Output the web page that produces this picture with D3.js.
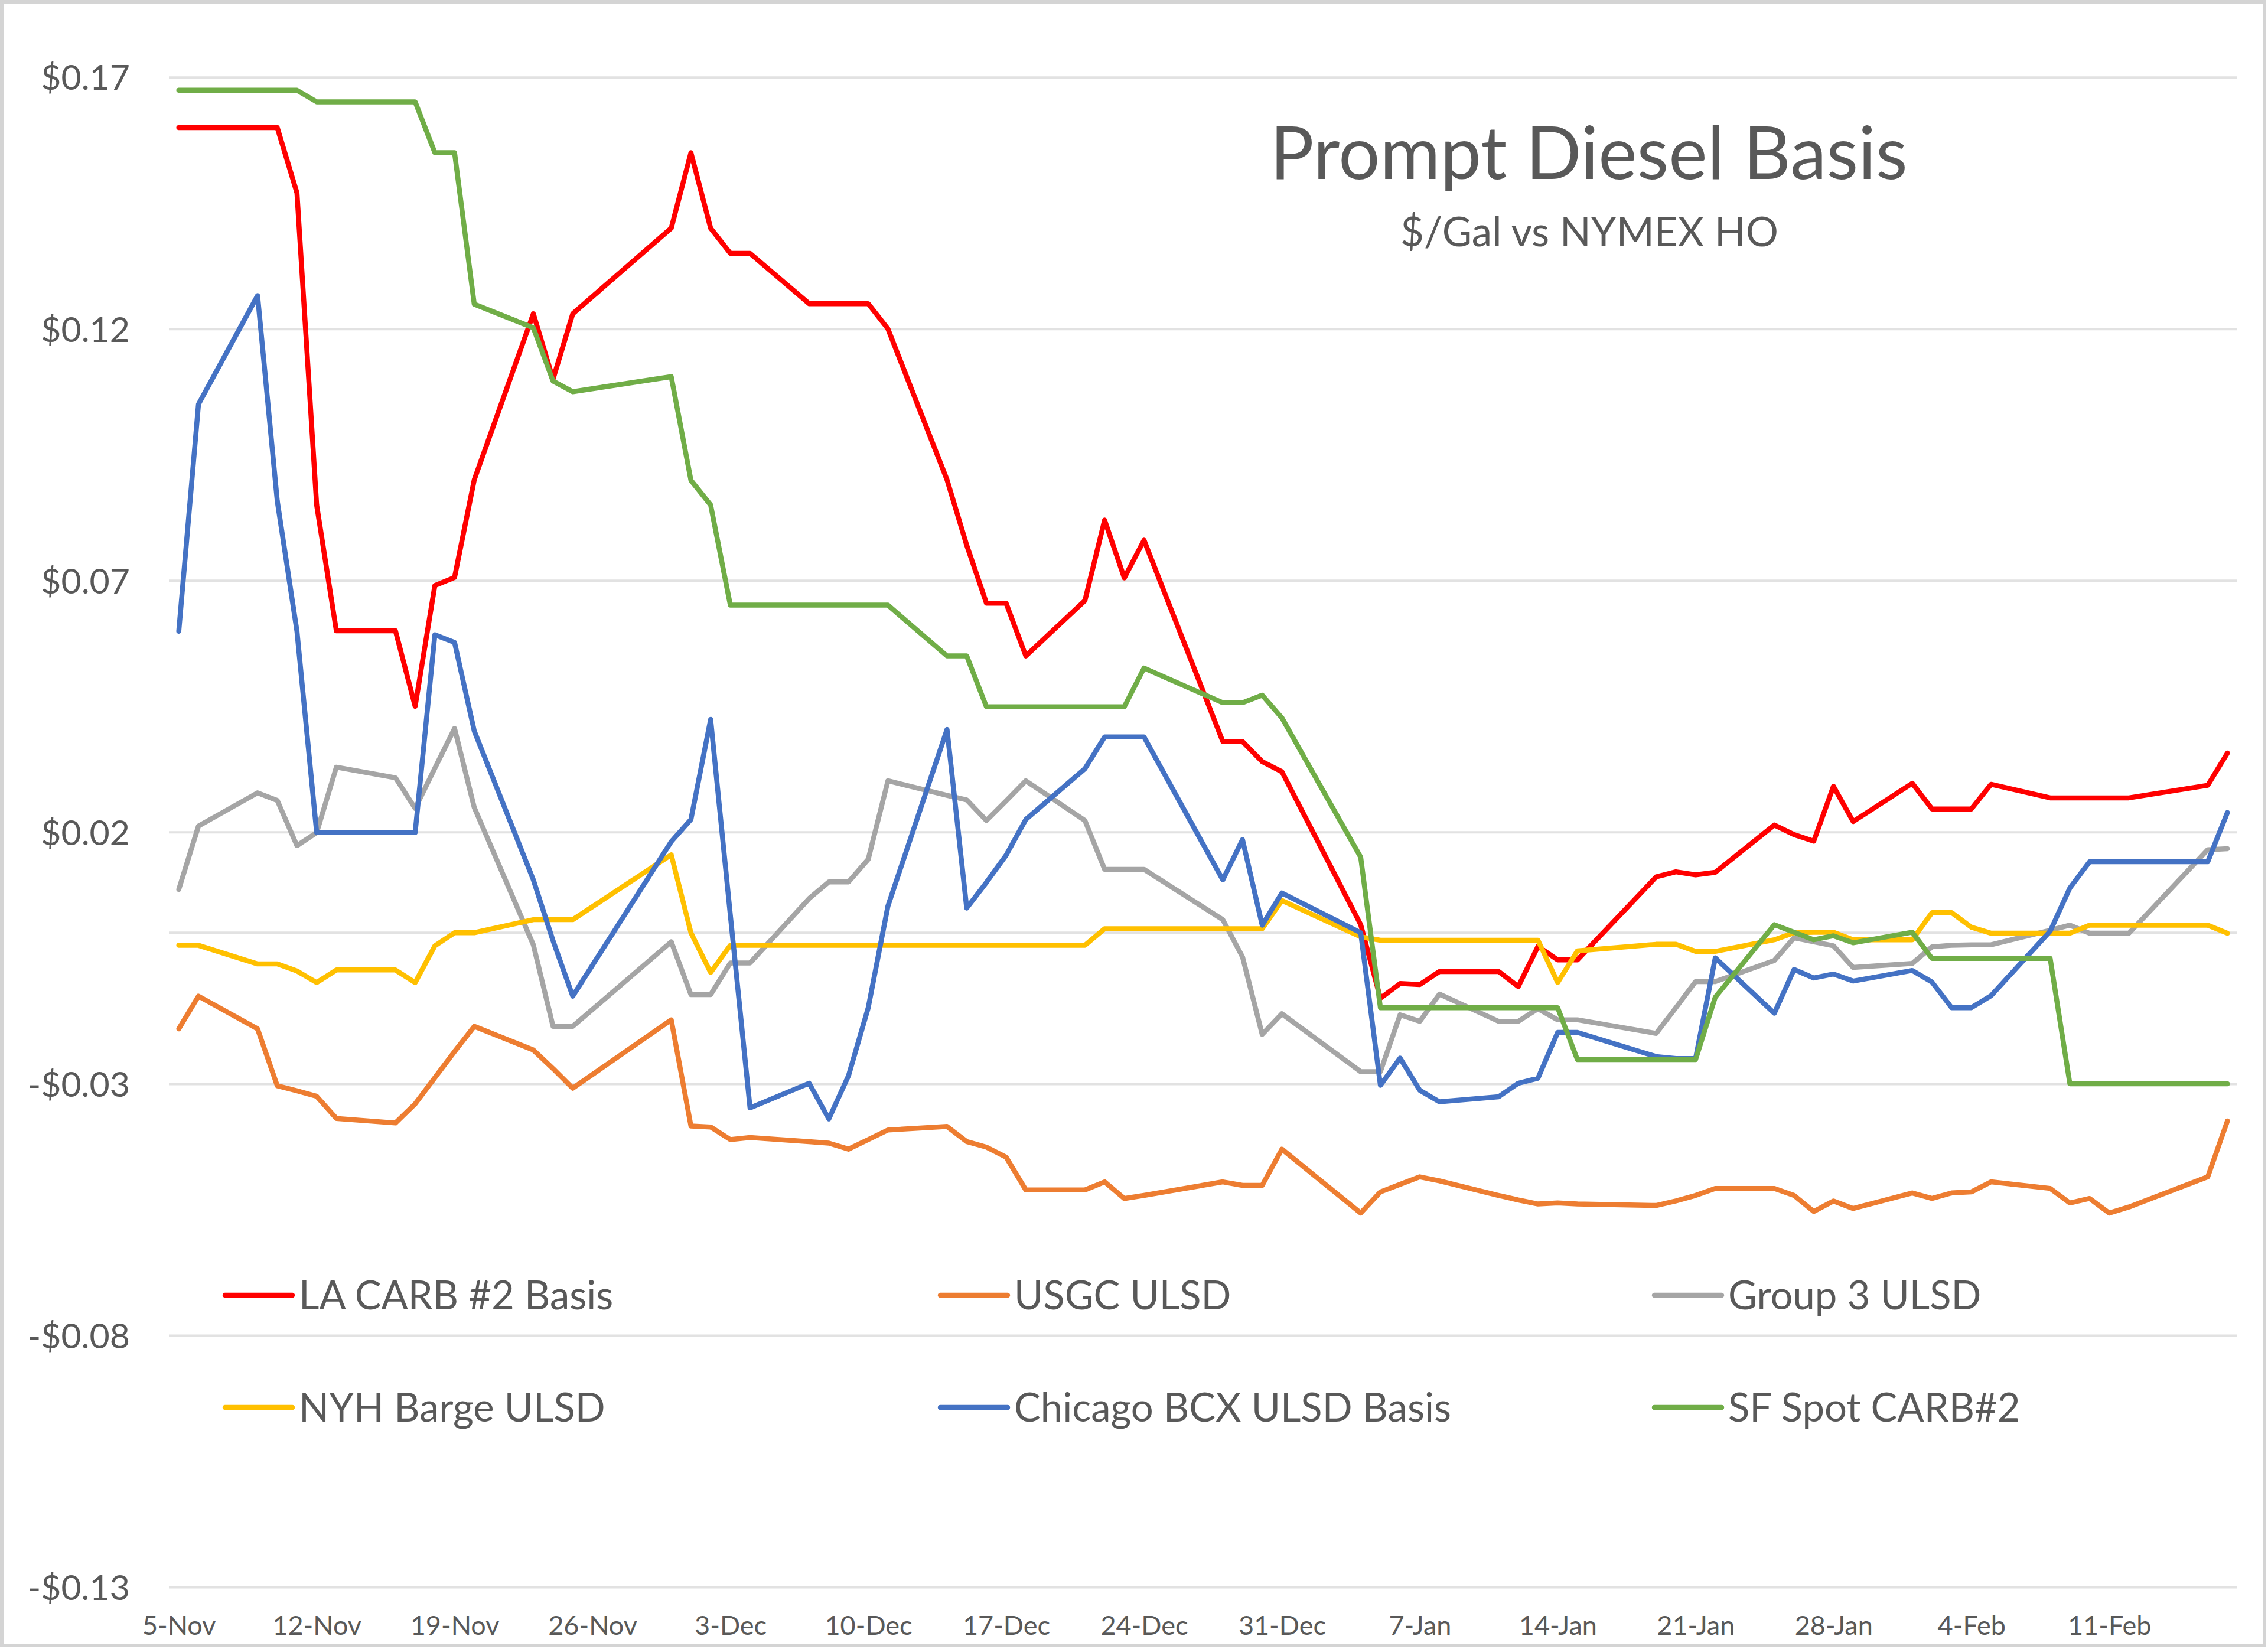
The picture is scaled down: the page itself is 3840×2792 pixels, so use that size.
<!DOCTYPE html>
<html>
<head>
<meta charset="utf-8">
<script src="https://cdn.jsdelivr.net/npm/d3@7/dist/d3.min.js"></script>
<style>
  html, body { margin: 0; padding: 0; background: #ffffff; }
  svg { display: block; }
  text { font-family: Lato, "Open Sans", sans-serif; }
</style>
</head>
<body>
<svg id="chart" width="3840" height="2792"></svg>
<script>
// ---------------- DATA ----------------
const dates = [
  "2020-11-05","2020-11-06","2020-11-09","2020-11-10","2020-11-11","2020-11-12","2020-11-13",
  "2020-11-16","2020-11-17","2020-11-18","2020-11-19","2020-11-20",
  "2020-11-23","2020-11-24","2020-11-25","2020-11-30",
  "2020-12-01","2020-12-02","2020-12-03","2020-12-04",
  "2020-12-07","2020-12-08","2020-12-09","2020-12-10","2020-12-11",
  "2020-12-14","2020-12-15","2020-12-16","2020-12-17","2020-12-18",
  "2020-12-21","2020-12-22","2020-12-23","2020-12-24",
  "2020-12-28","2020-12-29","2020-12-30","2020-12-31",
  "2021-01-04","2021-01-05","2021-01-06","2021-01-07","2021-01-08",
  "2021-01-11","2021-01-12","2021-01-13","2021-01-14","2021-01-15",
  "2021-01-19","2021-01-20","2021-01-21","2021-01-22",
  "2021-01-25","2021-01-26","2021-01-27","2021-01-28","2021-01-29",
  "2021-02-01","2021-02-02","2021-02-03","2021-02-04","2021-02-05",
  "2021-02-08","2021-02-09","2021-02-10","2021-02-11","2021-02-12",
  "2021-02-16","2021-02-17"
];

const laCarb = [
  0.160, 0.160, 0.160, 0.160, 0.147, 0.085, 0.060, 0.060, 0.045, 0.069, 0.0706, 0.090, 0.123, 0.110, 0.123,
  0.140, 0.155, 0.140, 0.135, 0.135,
  0.125, 0.125, 0.125, 0.125, 0.120,
  0.090, 0.077, 0.0655, 0.0655, 0.055,
  0.066, 0.082, 0.0705, 0.078,
  0.038, 0.038, 0.034, 0.032,
  0.0016, -0.013, -0.0101, -0.0103, -0.0077,
  -0.0077, -0.0107, -0.0027, -0.0054, -0.0054,
  0.0111, 0.0121, 0.0115, 0.012,
  0.0214, 0.0195, 0.0182, 0.0291, 0.0221,
  0.0297, 0.0246, 0.0246, 0.0246, 0.0295,
  0.0268, 0.0268, 0.0268, 0.0268, 0.0268,
  0.0293, 0.0357
];

const usgc = [
  -0.0191, -0.0126, -0.0191, -0.0304, -0.0314, -0.0325, -0.0369, -0.0378, -0.0340, -0.0288, -0.0236, -0.0186, -0.0233, -0.0270, -0.0309,
  -0.0173, -0.0384, -0.0386, -0.0411, -0.0407,
  -0.0415, -0.0418, -0.0430, -0.0411, -0.0392,
  -0.0385, -0.0415, -0.0426, -0.0446, -0.0511,
  -0.0511, -0.0495, -0.0528, -0.0522,
  -0.0495, -0.0502, -0.0502, -0.0430,
  -0.0557, -0.0515, -0.0500, -0.0485, -0.0493,
  -0.0522, -0.0531, -0.0539, -0.0537, -0.0539,
  -0.0542, -0.0533, -0.0522, -0.0508,
  -0.0508, -0.0522, -0.0554, -0.0533, -0.0548,
  -0.0517, -0.0528, -0.0517, -0.0515, -0.0495,
  -0.0508, -0.0537, -0.0528, -0.0557, -0.0545,
  -0.0485, -0.0374
];

const group3 = [
  0.0086, 0.0212, 0.0278, 0.0263, 0.0173, 0.0199, 0.0329, 0.0308, 0.0247, 0.0327, 0.0406, 0.0249, -0.0024, -0.0186, -0.0186,
  -0.0018, -0.0123, -0.0123, -0.0060, -0.0060,
  0.0068, 0.0101, 0.0101, 0.0146, 0.0302,
  0.0273, 0.0264, 0.0223, 0.0262, 0.0302,
  0.0223, 0.0126, 0.0126, 0.0126,
  0.0026, -0.0048, -0.0202, -0.0161,
  -0.0276, -0.0276, -0.0163, -0.0176, -0.0122,
  -0.0176, -0.0176, -0.0151, -0.0173, -0.0173,
  -0.0200, -0.0149, -0.0097, -0.0097,
  -0.0055, -0.0010, -0.0018, -0.0026, -0.0069,
  -0.0061, -0.0028, -0.0025, -0.0024, -0.0024,
  0.0005, 0.0015, -0.0001, -0.0001, -0.0001,
  0.0165, 0.0167
];

const nyhBarge = [
  -0.0025, -0.0025, -0.0062, -0.0062, -0.0076, -0.0099, -0.0074, -0.0074, -0.0099, -0.0026, 0.0000, 0.0000, 0.0026, 0.0026, 0.0026,
  0.0155, 0.0000, -0.0079, -0.0025, -0.0025,
  -0.0025, -0.0025, -0.0025, -0.0025, -0.0025,
  -0.0025, -0.0025, -0.0025, -0.0025, -0.0025,
  -0.0025, 0.0008, 0.0008, 0.0008,
  0.0008, 0.0008, 0.0008, 0.0064,
  -0.0008, -0.0015, -0.0015, -0.0015, -0.0015,
  -0.0015, -0.0015, -0.0015, -0.0099, -0.0036,
  -0.0023, -0.0023, -0.0037, -0.0037,
  -0.0014, 0.0000, 0.0001, 0.0001, -0.0014,
  -0.0014, 0.0040, 0.0040, 0.0011, -0.0001,
  -0.0001, -0.0001, 0.0015, 0.0015, 0.0015,
  0.0015, -0.0001
];

const chicagoBcx = [
  0.0599, 0.105, 0.1266, 0.0858, 0.0599, 0.0199, 0.0199, 0.0199, 0.0199, 0.0592, 0.0577, 0.0401, 0.0105, -0.0016, -0.0126,
  0.0181, 0.0225, 0.0424, 0.0035, -0.0348,
  -0.0299, -0.0370, -0.0284, -0.0149, 0.0053,
  0.0404, 0.0049, 0.0100, 0.0154, 0.0225,
  0.0326, 0.0389, 0.0389, 0.0389,
  0.0105, 0.0185, 0.0015, 0.0079,
  0.0000, -0.0303, -0.0249, -0.0313, -0.0336,
  -0.0326, -0.0299, -0.0289, -0.0198, -0.0198,
  -0.0246, -0.0250, -0.0250, -0.0050,
  -0.0160, -0.0073, -0.0090, -0.0082, -0.0096,
  -0.0075, -0.0098, -0.0149, -0.0149, -0.0125,
  0.0003, 0.0089, 0.0141, 0.0141, 0.0141,
  0.0141, 0.0239
];

const sfSpot = [
  0.1674, 0.1674, 0.1674, 0.1674, 0.1674, 0.1651, 0.1651, 0.1651, 0.1651, 0.155, 0.155, 0.1249, 0.1202, 0.1096, 0.1075,
  0.1105, 0.0899, 0.0850, 0.0651, 0.0651,
  0.0651, 0.0651, 0.0651, 0.0651, 0.0651,
  0.0550, 0.0550, 0.0449, 0.0449, 0.0449,
  0.0449, 0.0449, 0.0449, 0.0526,
  0.0457, 0.0457, 0.0472, 0.0427,
  0.0150, -0.0149, -0.0149, -0.0149, -0.0149,
  -0.0149, -0.0149, -0.0149, -0.0149, -0.0252,
  -0.0252, -0.0252, -0.0252, -0.0128,
  0.0016, 0.0001, -0.0014, -0.0006, -0.0020,
  0.0001, -0.0051, -0.0051, -0.0051, -0.0051,
  -0.0051, -0.0300, -0.0300, -0.0300, -0.0300,
  -0.0300, -0.0300
];

const seriesNames  = ["LA CARB #2 Basis", "USGC ULSD", "Group 3 ULSD", "NYH Barge ULSD", "Chicago BCX ULSD Basis", "SF Spot CARB#2"];
const seriesValues = [laCarb, usgc, group3, nyhBarge, chicagoBcx, sfSpot];
const seriesColors = ["#FF0000", "#ED7D31", "#A5A5A5", "#FFC000", "#4472C4", "#70AD47"];

const yTicks = [0.17, 0.12, 0.07, 0.02, -0.03, -0.08, -0.13];
const xTickDates = ["2020-11-05","2020-11-12","2020-11-19","2020-11-26","2020-12-03","2020-12-10","2020-12-17",
                    "2020-12-24","2020-12-31","2021-01-07","2021-01-14","2021-01-21","2021-01-28","2021-02-04","2021-02-11"];
const axisStart = "2020-11-05";
const axisEnd   = "2021-02-18";

const titleText = "Prompt Diesel Basis";
const subtitleText = "$/Gal vs NYMEX HO";

// ---------------- LAYOUT ----------------
const W = 3840, H = 2792;
const plotL = 286, plotR = 3788, plotT = 130.7, plotB = 2687;
const textColor = "#595959";
const gridColor = "#e2e2e2";

const parse = d3.utcParse("%Y-%m-%d");
const mid = d => d3.utcHour.offset(parse(d), 12);

const svg = d3.select("#chart");

svg.append("rect").attr("x", 0).attr("y", 0).attr("width", W).attr("height", H).attr("fill", "#ffffff");
svg.append("rect").attr("x", 3).attr("y", 3).attr("width", W - 9).attr("height", H - 9)
  .attr("fill", "none").attr("stroke", "#d4d4d4").attr("stroke-width", 6);

const x = d3.scaleUtc().domain([parse(axisStart), parse(axisEnd)]).range([plotL, plotR]);
const y = d3.scaleLinear().domain([-0.13, 0.17]).range([plotB, plotT]);

const fmt = v => (v < 0 ? "-$" : "$") + Math.abs(v).toFixed(2);

// Y axis + gridlines
const yAxis = svg.append("g")
  .attr("transform", `translate(${plotL},0)`)
  .call(d3.axisLeft(y).tickValues(yTicks).tickFormat(fmt).tickSize(-(plotR - plotL)).tickPadding(66));
yAxis.select(".domain").remove();
yAxis.selectAll(".tick line").attr("stroke", gridColor).attr("stroke-width", 4);
yAxis.selectAll(".tick text")
  .attr("fill", textColor)
  .style("font-family", "Lato, 'Open Sans', sans-serif")
  .style("font-size", "59px")
  .attr("dy", "0.36em");

// horizontal (category) axis line at zero
svg.append("line")
  .attr("x1", plotL).attr("x2", plotR)
  .attr("y1", y(0)).attr("y2", y(0))
  .attr("stroke", gridColor).attr("stroke-width", 4);

// X axis labels at bottom
const xAxis = svg.append("g")
  .attr("transform", `translate(0,${plotB})`)
  .call(d3.axisBottom(x).tickValues(xTickDates.map(mid)).tickFormat(d3.utcFormat("%-d-%b")).tickSize(0).tickPadding(0));
xAxis.select(".domain").remove();
xAxis.selectAll(".tick text")
  .attr("fill", textColor)
  .attr("y", 81)
  .attr("dy", 0)
  .style("font-family", "Lato, 'Open Sans', sans-serif")
  .style("font-size", "45px");

// Lines
const line = d3.line()
  .x((d, i) => x(mid(dates[i])))
  .y(d => y(d));

seriesValues.forEach((vals, si) => {
  svg.append("path")
    .datum(vals)
    .attr("d", line)
    .attr("fill", "none")
    .attr("stroke", seriesColors[si])
    .attr("stroke-width", 8.5)
    .attr("stroke-linejoin", "round")
    .attr("stroke-linecap", "round");
});

// Title
svg.append("text")
  .attr("x", 2690).attr("y", 303)
  .attr("text-anchor", "middle")
  .attr("fill", textColor)
  .style("font-size", "124px")
  .text(titleText);
svg.append("text")
  .attr("x", 2691).attr("y", 417)
  .attr("text-anchor", "middle")
  .attr("fill", textColor)
  .style("font-size", "69px")
  .text(subtitleText);

// Legend
const legCols = [381, 1592, 2801];
const legRows = [2193, 2383];
seriesNames.forEach((name, i) => {
  const cx = legCols[i % 3], cy = legRows[Math.floor(i / 3)];
  const g = svg.append("g");
  g.append("line")
    .attr("x1", cx).attr("x2", cx + 114)
    .attr("y1", cy).attr("y2", cy)
    .attr("stroke", seriesColors[i]).attr("stroke-width", 8.5).attr("stroke-linecap", "round");
  g.append("text")
    .attr("x", cx + 125).attr("y", cy + 24)
    .attr("fill", textColor)
    .style("font-size", "67px")
    .text(name);
});
</script>
</body>
</html>
